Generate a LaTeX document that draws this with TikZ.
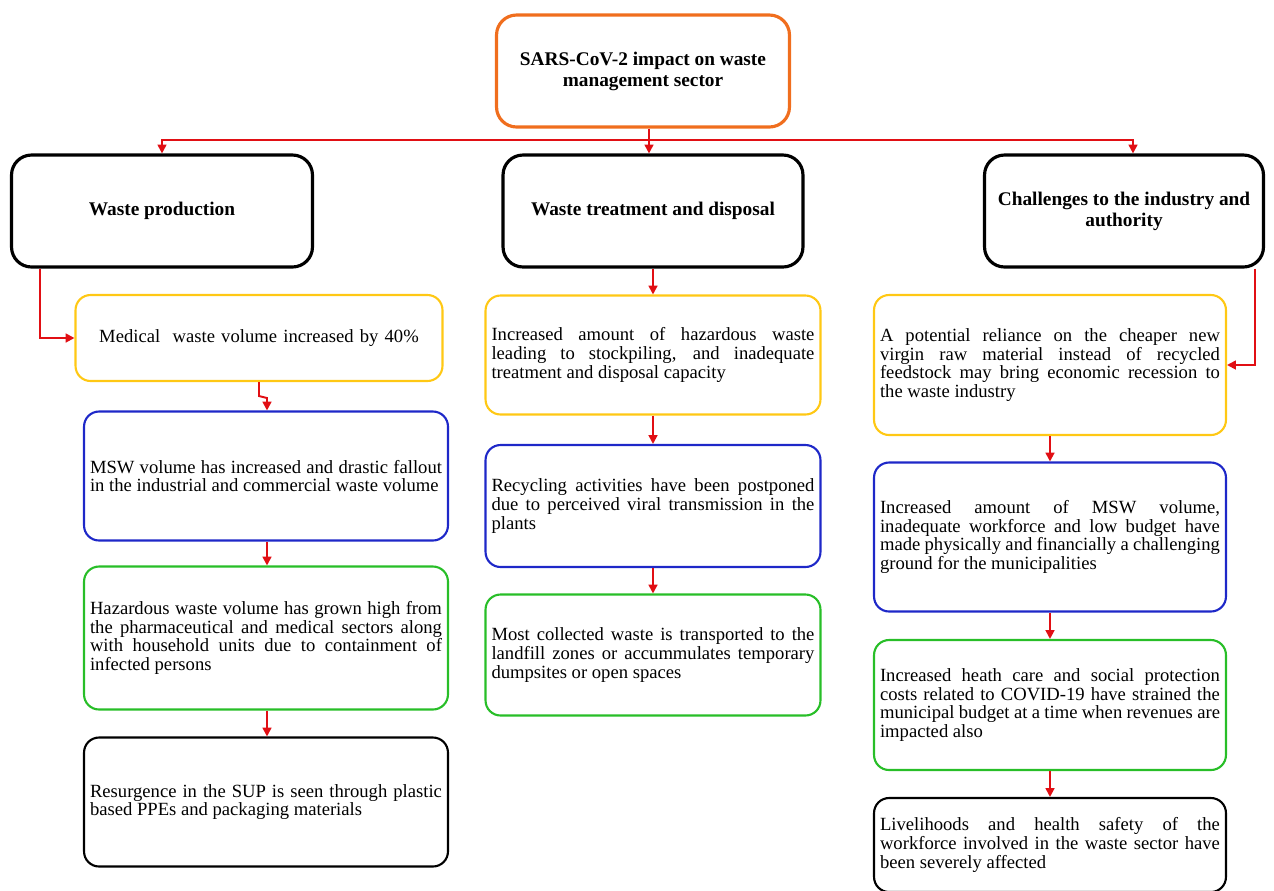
\documentclass[tikz,border=0pt]{standalone}
\usepackage{fontspec}
\setmainfont{Liberation Serif}
\usetikzlibrary{arrows.meta}
\definecolor{boxorange}{RGB}{240,110,30}
\definecolor{boxyellow}{RGB}{255,200,20}
\definecolor{boxblue}{RGB}{30,40,200}
\definecolor{boxgreen}{RGB}{40,190,40}
\definecolor{arrred}{RGB}{225,15,20}
\hyphenpenalty=10000
\exhyphenpenalty=10000
\newcommand{\cardfont}{\fontsize{10.6}{10.6}\selectfont\spaceskip=0.25em plus 0.6em minus 0em\relax}

\begin{document}
\begin{tikzpicture}[x=0.02cm,y=-0.02cm,>={Triangle[length=5pt,width=5pt]},
  every node/.style={font=\cardfont,inner xsep=0.12cm},
  card/.style={draw,rounded corners=0.3cm,line width=1.2pt,align=justify},
  snug/.style={font=\fontsize{10.6}{10.6}\selectfont},
  head/.style={draw,rounded corners=0.4cm,line width=1.8pt,align=center,
    font=\fontsize{11}{12}\selectfont\bfseries,minimum height=2.24cm},
  arr/.style={->,draw=arrred,line width=1.1pt}]
  \useasboundingbox (0,0) rectangle (1274,890);

  \node[head,draw=boxorange,minimum width=5.86cm] (top) at (643,71)
    {SARS-CoV-2 impact on waste\\management sector};
  \node[head,minimum width=6.02cm] (wp) at (162,211) {Waste production};
  \node[head,minimum width=6.0cm] (wt) at (653,211) {Waste treatment and disposal};
  \node[head,minimum width=5.58cm] (ch) at (1124,211) {Challenges to the industry and\\authority};

  \node[card,draw=boxyellow,align=center,text width=7.1cm,minimum height=1.72cm] (l1) at (259,338)
    {Medical\ \ waste volume increased by 40\%};
  \node[card,draw=boxblue,text width=7.04cm,minimum height=2.58cm] (l2) at (266,476)
    {MSW volume has increased and drastic fallout in the industrial and commercial waste volume};
  \node[card,draw=boxgreen,text width=7.04cm,minimum height=2.86cm] (l3) at (266,638)
    {Hazardous waste volume has grown high from the pharmaceutical and medical sectors along with household units due to containment of infected persons};
  \node[card,text width=7.04cm,minimum height=2.58cm] (l4) at (266,802)
    {Resurgence in the SUP is seen through plastic based PPEs and packaging materials};

  \node[card,draw=boxyellow,text width=6.46cm,minimum height=2.38cm] (m1) at (653,355)
    {Increased amount of hazardous waste leading to stockpiling, and inadequate treatment and disposal capacity};
  \node[card,draw=boxblue,text width=6.46cm,minimum height=2.44cm] (m2) at (653,506)
    {Recycling activities have been postponed due to perceived viral transmission in the plants};
  \node[card,draw=boxgreen,text width=6.46cm,minimum height=2.42cm] (m3) at (653,655)
    {Most collected waste is transported to the landfill zones or accummulates temporary dumpsites or open spaces};

  \node[card,draw=boxyellow,text width=6.8cm,minimum height=2.8cm] (r1) at (1050,365)
    {A potential reliance on the cheaper new virgin raw material instead of recycled feedstock may bring economic recession to the waste industry};
  \node[card,snug,draw=boxblue,text width=6.8cm,minimum height=2.98cm] (r2) at (1050,537)
    {Increased amount of MSW volume, inadequate workforce and low budget have\linebreak made physically and financially a challenging ground for the municipalities};
  \node[card,snug,draw=boxgreen,text width=6.8cm,minimum height=2.6cm] (r3) at (1050,705)
    {Increased heath care and social protection costs related to COVID-19 have strained the municipal budget at a time when revenues are\linebreak impacted also};
  \node[card,snug,text width=6.8cm,minimum height=1.88cm] (r4) at (1050,845)
    {Livelihoods and health safety of the workforce involved in the waste sector have\linebreak been severely affected};

  \coordinate (hub) at (649,140);
  \draw[arrred,line width=1.1pt] (top.south -| hub) -- (hub);
  \draw[arr] (hub) -| (wp.north);
  \draw[arr] (hub) -- (hub |- wt.north);
  \draw[arr] (hub) -| ([xshift=0.18cm]ch.north);

  \draw[arr] ([xshift=0.6cm]wp.south west) |- (l1.west);
  \draw[arr] (l1.south) -- ++(0,14) -- ++(8,2) coordinate (zz) -- (zz |- l2.north);
  \draw[arr] (zz |- l2.south) -- (zz |- l3.north);
  \draw[arr] (zz |- l3.south) -- (zz |- l4.north);

  \draw[arr] (wt.south) -- (wt.south |- m1.north);
  \draw[arr] (m1) -- (m2);
  \draw[arr] (m2) -- (m3);

  \draw[arr] ([xshift=-0.2cm]ch.south east) |- (r1.east);
  \draw[arr] (r1) -- (r2);
  \draw[arr] (r2) -- (r3);
  \draw[arr] (r3) -- (r4);
\end{tikzpicture}
\end{document}
